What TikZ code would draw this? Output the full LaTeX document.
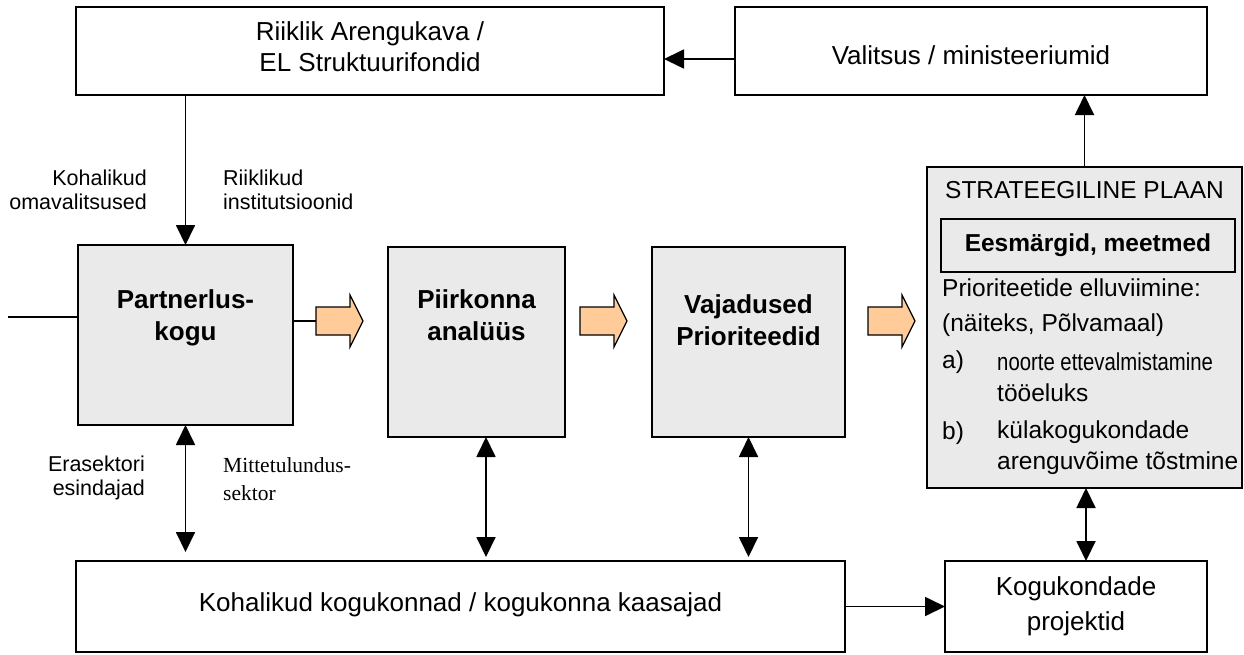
\documentclass[tikz,border=0pt]{standalone}
\usepackage{fontspec}
\setmainfont{Liberation Sans}
\newfontfamily\seriffont{Liberation Serif}
\usetikzlibrary{arrows.meta,calc}
\definecolor{boxgray}{HTML}{EAEAEA}
\definecolor{peach}{HTML}{FFCC99}
\tikzset{
  box/.style={draw, line width=1.8pt, inner sep=0pt, outer sep=0pt},
  graybox/.style={box, fill=boxgray},
  txt/.style={font=\fontsize{26}{31}\selectfont, align=center, inner sep=0pt},
  btxt/.style={font=\fontsize{26}{32}\selectfont\bfseries, align=center, inner sep=0pt},
  stxt/.style={font=\fontsize{24.5}{31}\selectfont, align=left, inner sep=0pt},
  lbl/.style={font=\fontsize{21.5}{24}\selectfont, inner sep=0pt},
  conn/.style={line width=1.8pt, -{Triangle[length=20pt,width=19pt]}},
  dconn/.style={line width=1.8pt, {Triangle[length=20pt,width=19pt]}-{Triangle[length=20pt,width=19pt]}},
  plain/.style={line width=1.8pt},
  fat/.style={draw, line width=1.3pt, fill=peach, line join=miter}
}
\begin{document}
\begin{tikzpicture}[x=1pt,y=-1pt]
\useasboundingbox (0,0) rectangle (1244,654);

% boxes
\node[box, minimum width=588pt, minimum height=88pt] (R) at (370,51) {};
\node[box, minimum width=472pt, minimum height=88pt] (V) at (971,51) {};
\node[graybox, minimum width=215pt, minimum height=180pt] (P) at (185.5,335) {};
\node[graybox, minimum width=177pt, minimum height=190pt] (A) at (476.5,342) {};
\node[graybox, minimum width=193pt, minimum height=190pt] (B) at (748.5,342) {};
\node[graybox, minimum width=315pt, minimum height=321pt] (S) at (1084.5,327.5) {};
\node[box, minimum width=294pt, minimum height=53pt] (E) at (1088,245.5) {};
\node[box, minimum width=769pt, minimum height=91pt] (L) at (460.5,606.5) {};
\node[box, minimum width=262pt, minimum height=91pt] (K) at (1076,606.5) {};

% box texts
\node[txt] (Rt) at (370,47) {Riiklik Arengukava /\\EL Struktuurifondid};
\node[txt] (Vt) at (971,55) {Valitsus / ministeeriumid};
\node[btxt] (Pt) at (185.5,318) {Partnerlus-\\kogu};
\node[btxt] (At) at (476.5,315) {Piirkonna\\analüüs};
\node[btxt] (Bt) at (748.5,320) {Vajadused\\Prioriteedid};
\node[txt] (Lt) at (460.5,605) {Kohalikud kogukonnad / kogukonna kaasajad};
\node[txt, font=\fontsize{26}{35}\selectfont] (Kt) at (1076,606) {Kogukondade\\projektid};

% strategic plan contents
\node[stxt] (St) at (1084.5,190) {STRATEEGILINE PLAAN};
\node[stxt, font=\fontsize{24.5}{31}\selectfont\bfseries] (Et) at (1088,245.5) {Eesmärgid, meetmed};
\node[stxt, anchor=west] (S1) at (942,288) {Prioriteetide elluviimine:};
\node[stxt, anchor=west] (S2) at (942,325) {(näiteks, Põlvamaal)};
\node[stxt, anchor=west] (Sa) at (942,362) {a)};
\node[stxt, anchor=west] (Sat) at (997,377.5) {\scalebox{0.83}[1]{noorte ettevalmistamine}\\tööeluks};
\node[stxt, anchor=west] (Sb) at (942,433) {b)};
\node[stxt, anchor=west] (Sbt) at (997,448) {külakogukondade\\arenguvõime tõstmine};

% labels
\node[lbl, align=right, anchor=east] (l1) at (147,190) {Kohalikud\\omavalitsused};
\node[lbl, align=left, anchor=west] (l2) at (223,190) {Riiklikud\\institutsioonid};
\node[lbl, align=right, anchor=east] (l3) at (145,477.5) {Erasektori\\esindajad};
\node[lbl, align=left, anchor=west, font=\seriffont\fontsize{21.5}{28}\selectfont] (l4) at (223,479) {Mittetulundus-\\sektor};

% fat arrows
\coordinate (f1) at (316,321);
\coordinate (f2) at (580,321);
\coordinate (f3) at (868,321);
\foreach \f in {f1,f2,f3}{
  \draw[fat] ($(\f)+(0,-14)$) -- ++(34,0) -- ++(0,-12) -- ++(13,26) -- ++(-13,26) -- ++(0,-12) -- ++(-34,0) -- cycle;
}
\draw[plain] ([yshift=14pt]P.east) -- (f1);

% connectors
\coordinate (in) at (8,317);
\draw[plain] (in) -- (in -| P.west);
\draw[conn] ([yshift=-8pt]V.west) -- ([yshift=-8pt]R.east);
\draw[conn] (P.north |- R.south) -- (P.north);
\draw[conn] (S.north) -- (S.north |- V.south);
\draw[dconn, shorten >=9pt] (P.south) -- (P.south |- L.north);
\draw[dconn, shorten >=4pt] ([xshift=9.5pt]A.south) -- ([xshift=9.5pt]A.south |- L.north);
\draw[dconn, shorten >=4pt] (B.south) -- (B.south |- L.north);
\draw[dconn] ([xshift=1.5pt]S.south) -- ([xshift=1.5pt]S.south |- K.north);
\draw[conn] (L.east) -- (K.west);
\end{tikzpicture}
\end{document}
